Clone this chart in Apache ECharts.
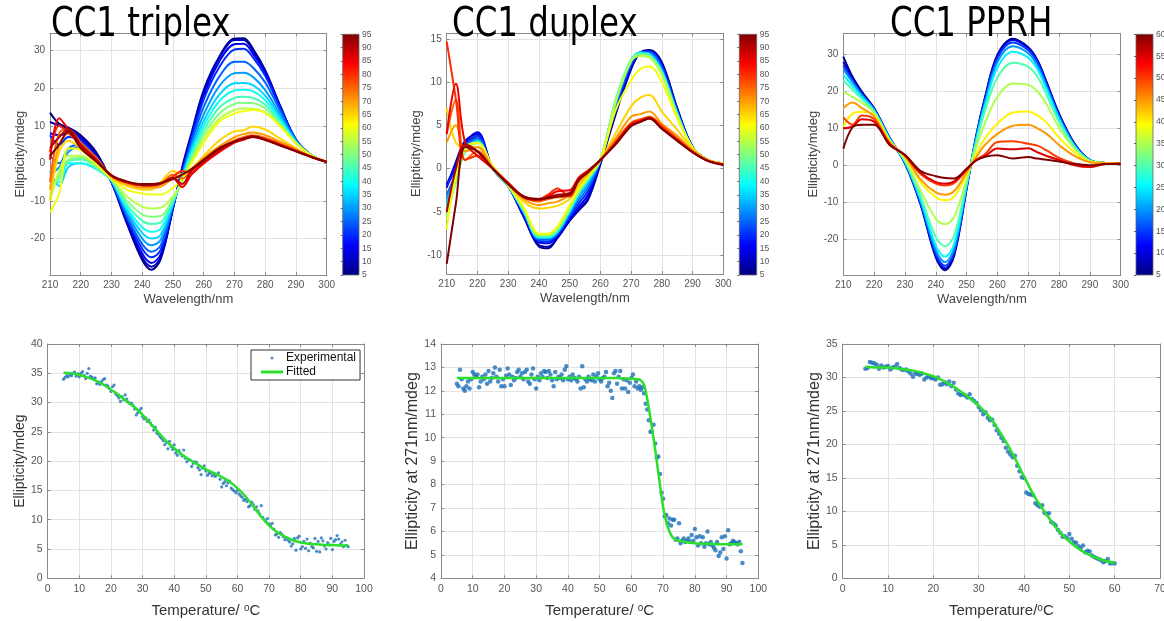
<!DOCTYPE html>
<html><head><meta charset="utf-8">
<script src="https://cdn.jsdelivr.net/npm/echarts@6/dist/echarts.min.js"></script>
<style>html,body{margin:0;padding:0;background:#fff}#c{width:1164px;height:621px}</style>
</head><body><div id="c"></div>
<script>
// ---------------- DATA ----------------
const wavelengths = [210,213,216,220,225,230,235,240,243,246,250,253,256,260,265,270,273,276,280,285,290,295,300];

const triplexTemps = [5,10,15,20,25,30,35,40,45,50,55,60,65,70,75,80,85,90,95];
const triplexSpectra = [
 [13.5,10.5,9.5,7.5,3,-5,-16,-25.7,-28.3,-25.5,-12,-1,8,19.5,28.3,33.2,33.3,30.5,24.8,15,6.2,2.2,0.4],
 [11,10,9,7,2.5,-5,-15.5,-25,-27.5,-25,-12,-1.5,7.5,19,28,32.8,32.8,30,24.5,15,6.3,2.2,0.4],
 [8,7.5,8,6.5,2,-5,-15,-24,-26.5,-24.2,-11.8,-2,7,18,27,31.7,31.8,29.2,24,14.8,6.3,2.2,0.4],
 [7.5,5,7,6,1.5,-4.8,-14.5,-22.7,-25,-23,-11.5,-2.5,6.5,17,25.5,30.3,30.5,28.2,23.3,14.5,6.3,2.2,0.4],
 [2,0,4,5,1,-4.8,-14,-21.5,-23.5,-21.8,-11.3,-3,5.5,15,23,27,27,25.5,21.5,13.8,6.2,2.2,0.4],
 [-3,-1,3,4.5,0.5,-4.7,-13.2,-20,-21.8,-20.3,-11,-3.3,4.5,13,20.5,24,24.1,23,19.5,12.8,6,2.2,0.4],
 [-2,-6,-1,0,-1.5,-4.6,-12.5,-18.5,-20,-19,-10.7,-3.7,3.5,11.3,18.2,21.3,21.4,20.8,18,12,5.8,2.1,0.4],
 [-5,-5,0,0,-1.5,-4.5,-11.8,-17,-18.2,-17.4,-10.3,-4,2.8,10,16.5,19.4,19.6,19.2,16.8,11.3,5.6,2.1,0.4],
 [-6,-4,0.5,1,-1,-4.4,-11,-15.3,-16.1,-15.7,-10,-4.3,2,8.8,14.8,17.4,17.7,17.4,15.6,10.8,5.5,2.1,0.4],
 [-8,-3,1,1.5,-1,-4.3,-10,-13.6,-14.2,-14,-9.5,-4.6,1.2,7.6,13.2,15.8,16.1,16,14.6,10.3,5.4,2.1,0.4],
 [-10,-2,2,2,-0.5,-4.2,-8.8,-11.5,-12,-11.8,-8.8,-4.8,0.5,6.5,11.8,14.2,14.6,14.5,13.5,9.8,5.3,2.1,0.4],
 [-13,-8,4,3.5,0,-4,-7,-8,-8.3,-8.3,-6.5,-4.2,0,5.5,11,13.3,13.9,14.2,13.4,9.8,5.4,2.1,0.4],
 [-10,3,6,4,1,-3.8,-6,-7,-7,-5,-2,-3,-1.5,2,6,8.5,8.8,9.8,9,6.5,4,1.8,0.5],
 [-7,5,8,5,1.5,-3.5,-5.5,-6.5,-6.5,-6.2,-4,-3,-1.5,1.5,4.5,7,7.8,8.2,7.5,5.7,3.8,1.8,0.5],
 [-5,8,9,5.5,1.5,-3.5,-5.2,-6,-6,-5.5,-3,-4,-2,1,4,6.2,7,7.5,6.8,5.2,3.5,1.8,0.5],
 [3,10,8,5,1,-3.3,-5,-5.8,-5.8,-5.5,-3.5,-2,-2.5,0.5,3.5,5.8,6.6,7.2,6.5,5,3.4,1.8,0.4],
 [1,12,9,4.5,1,-3.3,-5,-5.6,-5.6,-5.3,-4,-6.3,-3,0,3,5.5,6.3,7,6.3,4.9,3.3,1.7,0.4],
 [4,7,9,5,1,-3.2,-5,-5.8,-5.8,-5.4,-3.8,-5.5,-2,0.5,3.5,5.7,6.5,7,6.2,4.8,3.2,1.7,0.4],
 [2,5,8.5,4,0.5,-3.2,-4.8,-5.5,-5.5,-5.2,-4.2,-3,-1.5,1,4,5.8,6.6,7.2,6.3,4.7,3.2,1.7,0.4]
];

const duplexTemps = [5,10,15,20,25,30,35,40,45,50,55,60,65,70,75,80,85,90,95];
const duplexSpectra = [
 [-2,0.5,3,3.5,0,-2,-5.5,-9,-9.2,-8,-6,-4.8,-3.6,0.5,6.3,11.5,13.4,13.7,12.3,7,2.5,1,0.6],
 [-2.2,0.8,3.2,4,0,-2,-5.5,-8.8,-9,-8,-6,-4.7,-3.4,0.7,6.5,11.6,13.4,13.6,12.1,6.9,2.5,1,0.6],
 [-1.8,0.5,3,4.2,0,-2,-5.3,-8.5,-8.6,-7.8,-5.8,-4.4,-3,0.8,6.8,11.8,13.4,13.6,12,6.8,2.5,1,0.6],
 [-2,0,2.8,3.8,0,-2,-5.2,-8.3,-8.4,-7.6,-5.6,-4,-2.6,0.9,7,12,13.4,13.5,11.8,6.7,2.4,1,0.6],
 [-3,-0.5,2.5,3.5,0,-2,-5,-8.2,-8.2,-7.5,-5.3,-3.6,-2.2,1,7.3,12.2,13.4,13.4,11.6,6.6,2.4,1,0.6],
 [-3.5,-0.8,2.2,3.3,0,-2,-5,-8,-8,-7.4,-5.1,-3.2,-1.8,1,7.5,12.4,13.4,13.3,11.4,6.5,2.4,1,0.6],
 [-4,-1,2,3.2,0,-2,-4.9,-8,-8,-7.3,-5,-3,-1.5,1,7.8,12.5,13.4,13.2,11.3,6.4,2.4,1,0.6],
 [-4.5,-1.2,2,3.1,0,-2,-4.8,-7.9,-7.9,-7.2,-4.8,-2.8,-1.3,1,7.9,12.6,13.3,13.1,11.2,6.3,2.4,1,0.6],
 [-5,-1.5,2,3,0,-2,-4.8,-7.8,-7.8,-7.1,-4.7,-2.7,-1.2,1,8,12.6,13.3,13.1,11.1,6.3,2.4,1,0.6],
 [-5.5,-1.5,2,3,0,-2,-4.7,-7.7,-7.7,-7,-4.6,-2.6,-1.1,1,7.9,12.5,13.2,13,11,6.2,2.4,1,0.6],
 [-6,-1,2.2,3,0.2,-1.9,-4.6,-7.6,-7.6,-6.9,-4.5,-2.5,-1,1,7.7,12.4,13,12.8,10.8,6.1,2.4,1,0.6],
 [-7,-0.5,2.5,3,0.3,-1.8,-4.4,-7.5,-7.5,-6.7,-4.2,-2.4,-0.9,1,6.8,10.2,11.5,11.8,10,5.8,2.4,1,0.6],
 [7,3,2.5,2.5,0.2,-1.8,-3.8,-4.6,-4.5,-4.3,-3.5,-2,-0.7,1,4.1,7.2,8.2,8.5,6.6,4.5,2.3,1,0.6],
 [3,5,2,2.5,0,-1.8,-3.5,-4.2,-4,-3.8,-3,-1.6,-0.5,1,3.5,6,6.3,6.6,5.2,3.8,2.1,1,0.5],
 [4,8,1,2,0,-1.7,-3.3,-3.8,-3.5,-3.3,-3.2,-1.3,-0.3,1,3.2,5.3,5.7,6,5,3.5,2,0.9,0.5],
 [14.7,8,1,1.5,0,-1.6,-3.2,-3.5,-3,-2.3,-3.2,-1.2,-0.3,1,3,5.2,5.6,5.9,4.8,3.4,2,0.9,0.5],
 [4,9.8,3,1.5,0,-1.7,-3.2,-3.6,-3.2,-2.6,-2.5,-1,-0.2,1,3,5.1,5.5,5.9,4.7,3.3,1.9,0.9,0.5],
 [-5,0,2.8,2,0,-1.7,-3.3,-3.6,-3.3,-3,-2.8,-1.2,-0.3,1,2.9,5,5.4,5.8,4.6,3.3,1.9,0.9,0.5],
 [-11,-4,2.5,2,0,-1.8,-3.2,-3.5,-3.4,-3.2,-3,-1.3,-0.4,1,2.8,4.9,5.4,5.8,4.6,3.2,1.9,0.9,0.4]
];

const pprhTemps = [5,10,15,20,25,30,35,40,45,50,55,60];
const pprhSpectra = [
 [29.5,24,20,15.5,7.5,0.5,-10.5,-25,-28.5,-24.5,-6.5,7.5,18.5,30,34.3,32,28.5,22.5,14,5.9,1.4,0.6,0.5],
 [28,23.5,19.5,15.3,7.4,0.6,-10.2,-24.5,-28,-24,-6.3,7.3,18.3,29.5,34,31.8,28.3,22.3,13.8,5.8,1.4,0.6,0.5],
 [27,23,19.2,15.2,7.3,0.7,-10,-24,-27.3,-23.4,-6,7,17.8,29,33.3,31.2,27.8,21.8,13.4,5.6,1.4,0.6,0.5],
 [26,22.5,19,15,7.2,0.8,-9.6,-23,-26.3,-22.5,-5.7,6.8,17.2,28,32.3,30.4,27,21.2,13,5.4,1.3,0.6,0.5],
 [24.5,21.5,18.5,14.8,7.1,1,-9,-21.8,-24.8,-21.3,-5.3,6.4,16.3,26.5,30.8,29.2,26,20.5,12.5,5.2,1.3,0.6,0.5],
 [23,20.5,18,14.6,7,1.2,-8.2,-19.5,-22,-19,-4.8,5.8,14.8,23.8,27.8,26.7,24,19,11.7,4.9,1.2,0.6,0.5],
 [20,18.5,17,14.2,6.8,1.6,-6.8,-14.5,-16,-14,-3.8,4.5,11.5,18.6,22.2,21.8,20,16.5,10.2,4.5,1.1,0.6,0.5],
 [10.5,14,14.5,13.5,6.5,2.2,-4.5,-8.7,-9.5,-8.5,-2.5,2.8,7.3,11.3,14.3,14.6,13.5,11.5,7.5,3.5,1,0.6,0.5],
 [15.5,17,15.5,13.2,6.3,2.5,-3.8,-7.4,-8,-7,-2,2,5.5,8.5,10.7,11,10,8.5,5.5,2.5,0.8,0.5,0.5],
 [13,11,13.5,12.5,6,2.6,-2.3,-5,-5.5,-4.8,-1.3,1.4,3,6.3,6.5,5.8,5.3,4,2,0.5,-0.3,0.3,0.4],
 [10,10.5,12.5,11.8,5.8,2.7,-2,-4.6,-5,-4.4,-1.1,1.3,2.5,4.5,4.3,4.6,3.5,2.5,1.4,0,-0.5,0.3,0.4],
 [4.5,10.3,11,11,5.5,2.8,-1.5,-3,-3.5,-3.6,-1,1.2,2.3,2.7,1.8,2.2,1.8,1.5,1,0.3,0,0.3,0.4]
];

// melting curves: experimental points every 0.5 degC starting at 5 degC
const meltStep = 0.5;
const triplexMeltStart = 5;
const triplexMeltPoints = [
 34.0,34.3,34.6,34.4,34.8,34.6,35.0,35.2,34.5,34.9,
 34.4,35.0,35.3,34.6,34.1,35.0,35.8,34.5,34.3,34.0,
 34.2,33.2,33.5,33.1,33.6,33.9,34.1,33.0,32.8,32.4,
 31.9,32.7,33.0,31.5,31.2,30.8,30.2,31.0,30.5,31.3,
 30.6,30.1,29.8,29.9,29.5,28.9,27.9,28.3,28.6,29.0,
 27.6,27.2,27.4,26.8,27.0,26.5,26.1,25.3,25.8,24.8,
 24.6,24.2,23.9,23.5,22.8,23.2,22.1,23.4,22.5,22.0,
 22.8,21.4,21.0,21.8,21.3,20.9,21.9,20.5,19.9,20.3,
 20.2,19.1,19.6,19.9,19.8,18.9,18.5,17.7,18.8,19.2,
 18.3,17.6,17.9,18.0,17.5,17.8,17.4,17.7,18.0,16.9,
 15.6,16.2,16.5,15.8,16.3,16.6,15.4,15.1,14.9,14.6,
 15.0,14.4,14.1,13.8,13.3,13.5,13.1,12.2,12.4,13.0,
 12.6,11.8,12.2,11.5,11.0,12.4,10.4,10.0,9.7,10.2,
 9.3,9.0,9.4,8.4,7.4,7.6,7.0,7.8,7.5,7.1,
 6.6,6.9,6.5,6.2,5.5,5.9,6.8,4.8,6.9,7.2,
 5.0,5.4,6.3,5.1,6.7,4.7,6.0,5.4,5.2,6.8,
 4.6,6.3,4.5,6.9,6.4,5.5,5.0,6.1,5.7,6.8,
 4.9,6.3,6.6,7.3,6.7,5.8,6.2,5.4,6.5,5.6,
 5.4
];
const triplexFitTemps = [5,7.5,10,12.5,15,17.5,20,22.5,25,27.5,30,32.5,35,37.5,40,42.5,45,47.5,50,52.5,55,57.5,60,62.5,65,67.5,70,72.5,75,77.5,80,82.5,85,87.5,90,92.5,95];
const triplexFitValues = [35.1,35.0,34.7,34.3,33.8,33.1,32.2,31.3,30.2,29.2,27.9,26.4,24.9,23.4,22.2,21.1,20.2,19.4,18.6,18.0,17.3,16.5,15.4,14.0,12.3,10.5,9.0,7.9,7.1,6.5,6.1,5.9,5.8,5.7,5.7,5.6,5.6];

const duplexMeltStart = 5;
const duplexMeltPoints = [
 12.3,12.2,12.9,12.5,12.1,12.0,12.2,12.4,12.1,12.5,
 12.8,12.7,12.6,12.7,12.15,12.4,12.6,12.5,12.7,12.3,
 12.85,12.4,12.55,12.75,13.0,12.6,12.4,12.9,12.2,12.5,
 12.2,12.65,12.95,12.7,12.25,12.6,12.45,12.55,12.8,12.9,
 12.6,12.75,12.5,12.8,12.9,12.4,12.3,12.7,12.95,12.5,
 12.1,12.6,12.45,12.75,12.6,12.85,12.8,12.55,12.85,12.7,
 12.45,12.2,12.8,12.5,12.6,12.55,12.7,12.45,12.9,13.05,
 12.5,12.6,12.45,12.7,12.55,12.5,12.4,12.6,12.1,13.05,
 12.15,12.5,12.4,12.6,12.5,12.45,12.7,12.4,12.6,12.75,
 12.5,12.4,12.55,12.6,12.8,12.2,12.35,12.0,11.7,12.75,
 12.85,12.3,12.6,12.85,12.1,12.5,12.1,12.45,11.95,12.35,
 12.55,12.7,12.2,12.4,12.1,12.2,12.05,12.15,11.9,11.45,
 11.2,10.75,10.25,10.25,10.55,9.75,9.15,9.2,8.45,7.65,
 7.4,6.65,6.7,6.35,6.55,6.25,6.5,6.5,5.65,5.7,
 6.35,5.5,5.6,5.7,5.55,5.6,5.7,5.55,5.85,5.6,
 6.1,5.75,5.4,5.8,5.5,5.75,5.35,5.5,6.0,5.45,
 5.55,5.4,5.3,5.2,5.55,4.95,5.1,5.75,5.25,5.8,
 4.85,6.05,5.45,5.5,5.6,5.55,5.5,5.45,5.55,5.15,
 4.65
];
const duplexFitTemps = [5,15,25,35,45,55,60,62,63,64,65,66,67,68,69,70,71,72,73,74,75,77,80,85,90,95];
const duplexFitValues = [12.55,12.55,12.55,12.55,12.55,12.55,12.52,12.5,12.45,12.25,11.65,10.85,9.95,9.0,8.0,7.05,6.4,6.0,5.75,5.65,5.6,5.55,5.5,5.47,5.45,5.45];

const pprhMeltStart = 5;
const pprhMeltPoints = [
 31.3,31.4,32.3,32.2,32.1,31.9,31.3,31.8,31.5,31.6,
 31.7,31.2,31.5,31.6,32.0,31.4,31.2,31.1,31.2,30.9,
 30.6,30.1,30.6,30.5,30.4,30.6,29.7,30.0,30.2,29.9,
 29.9,29.7,30.0,28.9,29.0,29.3,29.0,29.4,28.7,29.2,
 28.2,27.6,27.4,27.5,27.3,27.0,27.5,26.8,26.5,26.2,
 25.6,25.1,24.5,24.8,24.0,23.6,23.7,22.9,22.1,21.6,
 21.0,20.5,19.5,18.9,18.5,18.1,18.3,16.8,16.0,15.1,
 15.0,12.8,12.6,12.5,12.4,11.2,10.9,10.7,10.9,9.8,
 9.6,9.7,8.4,8.2,7.9,7.2,6.8,6.2,6.3,6.0,
 6.6,5.9,5.4,5.3,4.8,4.5,4.9,3.9,4.1,4.0,
 3.4,3.2,3.0,2.9,2.7,2.4,2.6,2.9,2.2,2.3,
 2.2
];
const pprhFitTemps = [5,7.5,10,12.5,15,17.5,20,22.5,25,27.5,30,32.5,35,37.5,40,42.5,45,47.5,50,52.5,55,57.5,60];
const pprhFitValues = [31.6,31.5,31.5,31.3,31.1,30.7,30.2,29.4,28.4,27.2,25.8,24.0,21.5,18.6,15.2,12.0,9.5,7.2,5.5,4.2,3.3,2.7,2.3];

const titles = ['CC1 triplex', 'CC1 duplex', 'CC1 PPRH'];

// ---------------- STYLE / LAYOUT ----------------
const FONT = '"Liberation Sans", Arial, Helvetica, sans-serif';
const AX = '#8a8a8a';
const GRIDLINE = '#e2e2e2';
const LABEL = '#555';

function jet(t) {
  const c = v => Math.max(0, Math.min(1, v));
  const r = c(1.5 - Math.abs(4 * t - 3)), g = c(1.5 - Math.abs(4 * t - 2)), b = c(1.5 - Math.abs(4 * t - 1));
  return 'rgb(' + Math.round(r * 255) + ',' + Math.round(g * 255) + ',' + Math.round(b * 255) + ')';
}
const jetStops = [0, 0.125, 0.375, 0.625, 0.875, 1].map(o => ({ offset: o, color: jet(o) }));

const grids = [
  { left: 50, top: 33.3, width: 276.7, height: 241.7 },
  { left: 446.7, top: 33.3, width: 276.6, height: 240.7 },
  { left: 843.3, top: 33.3, width: 277.4, height: 241.7 },
  { left: 47.7, top: 344, width: 316.3, height: 234.3 },
  { left: 441, top: 344, width: 317.3, height: 234.3 },
  { left: 842.7, top: 344, width: 317.3, height: 234.3 },
  // colour bars
  { left: 342.7, top: 34.3, width: 16.3, height: 240.7 },
  { left: 739.3, top: 34.3, width: 17.4, height: 240.7 },
  { left: 1136, top: 34.3, width: 17, height: 240.7 }
].map((g, i) => Object.assign({ outerBoundsMode: 'none', containLabel: false }, g,
  i >= 6 ? { show: true, borderColor: '#666', borderWidth: 0.8,
    backgroundColor: { type: 'linear', x: 0, y: 1, x2: 0, y2: 0, colorStops: jetStops } } : { show: false }));

function fmtStep(step) {
  return v => (Math.abs(v / step - Math.round(v / step)) < 1e-6 ? String(Math.round(v * 100) / 100) : '');
}
function mainAxis(pos, gi, ext, name, nameGap, nameStyle, labelSize) {
  const a = {
    type: 'value', gridIndex: gi, position: pos, min: ext.min, max: ext.max,
    name: name, nameLocation: 'middle', nameGap: nameGap, nameTextStyle: nameStyle,
    axisLine: { show: true, onZero: false, lineStyle: { color: AX, width: 1 } },
    axisTick: { show: true, inside: true, length: 3, lineStyle: { color: AX } },
    axisLabel: { show: true, color: LABEL, fontSize: labelSize, fontFamily: FONT, margin: 5,
      formatter: fmtStep(ext.step) },
    splitLine: { show: true, lineStyle: { color: GRIDLINE, width: 1 } }
  };
  if (ext.nice) { a.interval = ext.step; } else { a.minInterval = ext.step; a.maxInterval = ext.step; }
  if (pos === 'left') a.nameRotate = 90;
  return a;
}
function mirrorAxis(pos, gi, ext) {
  const a = {
    type: 'value', gridIndex: gi, position: pos, min: ext.min, max: ext.max,
    axisLine: { show: true, onZero: false, lineStyle: { color: AX, width: 1 } },
    axisTick: { show: true, inside: true, length: 3, lineStyle: { color: AX } },
    axisLabel: { show: false }, splitLine: { show: false }
  };
  if (ext.nice) { a.interval = ext.step; } else { a.minInterval = ext.step; a.maxInterval = ext.step; }
  return a;
}

const topName = { fontSize: 13, color: '#444', fontFamily: FONT };
const tempNameStyle = { fontSize: 15, color: '#333', fontFamily: FONT,
  rich: { s: { fontSize: 10, color: '#333', fontFamily: FONT, verticalAlign: 'top', padding: [0, 0, 6, 0] } } };

const xExt = [
  { min: 210, max: 300, step: 10, nice: true },
  { min: 210, max: 300, step: 10, nice: true },
  { min: 210, max: 300, step: 10, nice: true },
  { min: 0, max: 100, step: 10, nice: true },
  { min: 0, max: 100, step: 10, nice: true },
  { min: 0, max: 70, step: 10, nice: true }
];
const yExt = [
  { min: -29.7, max: 34.6, step: 10 },
  { min: -12.16, max: 15.63, step: 5 },
  { min: -29.8, max: 35.8, step: 10 },
  { min: 0, max: 40, step: 5, nice: true },
  { min: 4, max: 14, step: 1, nice: true },
  { min: 0, max: 35, step: 5, nice: true }
];
const xNames = ['Wavelength/nm', 'Wavelength/nm', 'Wavelength/nm', 'Temperature/ {s|o}C', 'Temperature/ {s|o}C', 'Temperature/{s|o}C'];
const yNames = ['Ellipticity/mdeg', 'Ellipticity/mdeg', 'Ellipticity/mdeg', 'Ellipticity/mdeg', 'Ellipticity at 271nm/mdeg', 'Ellipticity at 271nm/mdeg'];
const xGaps = [18, 18, 18, 25, 25, 25];
const yGaps = [23, 22, 22, 19, 17, 17];
const yNameStyles = [topName, topName, topName,
  { fontSize: 14, color: '#333', fontFamily: FONT },
  { fontSize: 16, color: '#333', fontFamily: FONT },
  { fontSize: 16, color: '#333', fontFamily: FONT }];

const xAxes = [], yAxes = [];
for (let i = 0; i < 6; i++) {
  const ls = i < 3 ? 10 : 10.5;
  xAxes.push(mainAxis('bottom', i, xExt[i], xNames[i], xGaps[i], i < 3 ? topName : tempNameStyle, ls));
  xAxes.push(mirrorAxis('top', i, xExt[i]));
  yAxes.push(mainAxis('left', i, yExt[i], yNames[i], yGaps[i], yNameStyles[i], ls));
  yAxes.push(mirrorAxis('right', i, yExt[i]));
}
const cbMax = [95, 95, 60];
for (let j = 0; j < 3; j++) {
  xAxes.push({ type: 'value', gridIndex: 6 + j, min: 0, max: 1, show: false });
  yAxes.push({ type: 'value', gridIndex: 6 + j, position: 'right', min: 5, max: cbMax[j], interval: 5,
    axisLine: { show: false }, splitLine: { show: false },
    axisTick: { show: true, inside: true, length: 2, lineStyle: { color: '#666' } },
    axisLabel: { show: true, color: LABEL, fontSize: 8.5, fontFamily: FONT, margin: 3 } });
}

const series = [];
function addSpectra(spectra, temps, tmin, tmax, gi) {
  spectra.forEach((row, k) => {
    const col = jet((temps[k] - tmin) / (tmax - tmin));
    series.push({ type: 'line', name: 'spec' + gi + '_' + temps[k], xAxisIndex: 2 * gi, yAxisIndex: 2 * gi,
      data: wavelengths.map((w, i) => [w, row[i]]), showSymbol: false, smooth: 0.35, silent: true,
      lineStyle: { width: 2, color: col }, itemStyle: { color: col }, z: 2 });
  });
}
addSpectra(triplexSpectra, triplexTemps, 5, 95, 0);
addSpectra(duplexSpectra, duplexTemps, 5, 95, 1);
addSpectra(pprhSpectra, pprhTemps, 5, 60, 2);

const DOT = '#1c6fb8', FIT = '#2ae02a';
function addMelt(points, start, fitT, fitV, gi, nameP, nameF, size) {
  series.push({ type: 'scatter', name: nameP, xAxisIndex: 2 * gi, yAxisIndex: 2 * gi,
    data: points.map((v, i) => [start + i * meltStep, v]), symbolSize: size, silent: true,
    itemStyle: { color: DOT }, z: 3 });
  series.push({ type: 'line', name: nameF, xAxisIndex: 2 * gi, yAxisIndex: 2 * gi,
    data: fitT.map((t, i) => [t, fitV[i]]), showSymbol: false, smooth: 0.3, silent: true,
    lineStyle: { color: FIT, width: 2.5 }, itemStyle: { color: FIT }, z: 4 });
}
addMelt(triplexMeltPoints, triplexMeltStart, triplexFitTemps, triplexFitValues, 3, 'Experimental', 'Fitted', 3.2);
addMelt(duplexMeltPoints, duplexMeltStart, duplexFitTemps, duplexFitValues, 4, 'duplex points', 'duplex fit', 4.5);
addMelt(pprhMeltPoints, pprhMeltStart, pprhFitTemps, pprhFitValues, 5, 'pprh points', 'pprh fit', 4.5);

const titleX = [51, 452, 890];
const option = {
  animation: false,
  backgroundColor: '#fff',
  grid: grids,
  xAxis: xAxes,
  yAxis: yAxes,
  series: series,
  legend: {
    show: true, orient: 'vertical', left: 251, top: 350, selectedMode: false,
    data: [{ name: 'Experimental', icon: 'circle' }, { name: 'Fitted', icon: 'rect' }],
    itemWidth: 22, itemHeight: 3, itemGap: 2, padding: [2, 4, 2, 10],
    borderColor: '#333', borderWidth: 1, backgroundColor: '#fff', borderRadius: 0,
    textStyle: { fontSize: 12, color: '#111', fontFamily: FONT, padding: [0, 0, 0, -2] }
  },
  graphic: {
    elements: titles.map((t, i) => ({
      type: 'text', x: titleX[i], y: 5, scaleX: 0.88, scaleY: 1, z: 100, zlevel: 1, silent: true,
      style: { text: t, font: '41px "DejaVu Sans Condensed", "DejaVu Sans", sans-serif',
        fill: '#000', verticalAlign: 'top', align: 'left' }
    }))
  }
};
const chart = echarts.init(document.getElementById('c'), null, { renderer: 'canvas' });
chart.setOption(option);
</script>
</body></html>
